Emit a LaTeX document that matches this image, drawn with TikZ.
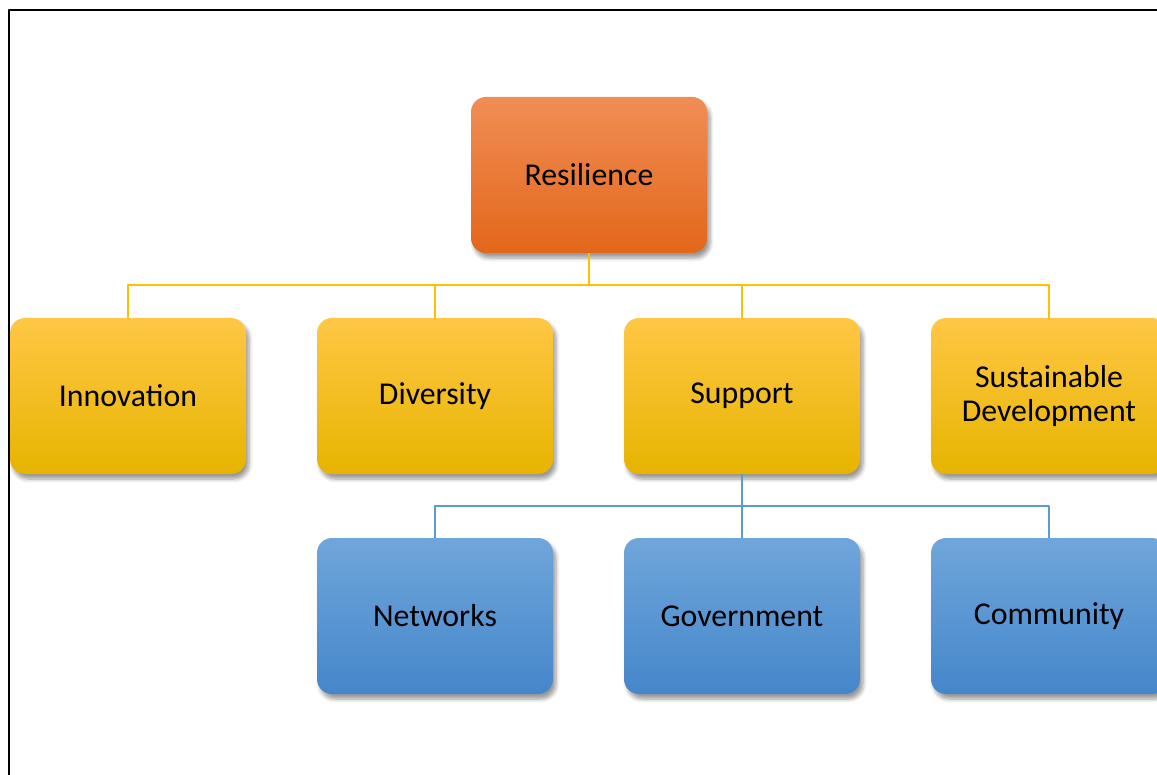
\documentclass[tikz,border=0pt]{standalone}
\usepackage{fontspec}
\setmainfont{Carlito}
\definecolor{rootorangetop}{HTML}{F08D55}
\definecolor{rootorange}{HTML}{F07A2A}
\definecolor{rootorangebot}{HTML}{E3671A}
\definecolor{branchyellowtop}{HTML}{FFC745}
\definecolor{branchyellow}{HTML}{FFC000}
\definecolor{branchyellowbot}{HTML}{E6B400}
\definecolor{leafbluetop}{HTML}{6FA6DB}
\definecolor{leafblue}{HTML}{5B9BD5}
\definecolor{leafbluebot}{HTML}{4586CA}
\usetikzlibrary{shadows.blur}

\begin{document}
\begin{tikzpicture}[
  x=0.5pt,
  y=-0.5pt,
  line join=round,
  box/.style={rectangle,rounded corners=7.5pt,minimum width=118pt,minimum height=78pt,
    inner sep=0pt,align=center,text=black,font=\fontsize{15.9}{17}\selectfont,
    blur shadow={shadow xshift=1.5pt,shadow yshift=-2.5pt,shadow blur steps=6,shadow opacity=40}},
  rootbox/.style={box,top color=rootorangetop,middle color=rootorange,bottom color=rootorangebot},
  branchbox/.style={box,top color=branchyellowtop,middle color=branchyellow,bottom color=branchyellowbot},
  leafbox/.style={box,top color=leafbluetop,middle color=leafblue,bottom color=leafbluebot},
  branchlink/.style={draw=branchyellow,line width=1.2pt},
  leaflink/.style={draw=leafblue,line width=1.2pt},
  frame/.style={draw=black,line width=1.2pt}
]
  \useasboundingbox (0,0) rectangle (1157,775);
  \clip (0,0) rectangle (1157,775);

  \draw[frame] (9,775) -- (9,10) -- (1157,10);

  % top level
  \node[rootbox] (res) at (589,175) {Resilience};

  % second level
  \node[branchbox] (inno) at (128,396) {Innovation};
  \node[branchbox] (div)  at (435,396) {Diversity};
  \node[branchbox] (sup)  at (742,396) {Support};
  \node[branchbox] (sust) at (1049,396) {Sustainable\\Development};

  % third level, under Support
  \node[leafbox] (net) at (435,616) {Networks};
  \node[leafbox] (gov) at (742,616) {Government};
  \node[leafbox] (com) at (1049,616) {Community};

  \coordinate (bus1) at (589,285);
  \coordinate (bus2) at (742,506);

  \draw[branchlink] (res.south) -- (bus1);
  \foreach \child in {inno,div,sup,sust}
    \draw[branchlink] (bus1) -| (\child.north);

  \draw[leaflink] (sup.south) -- (bus2);
  \foreach \child in {net,gov,com}
    \draw[leaflink] (bus2) -| (\child.north);
\end{tikzpicture}
\end{document}
